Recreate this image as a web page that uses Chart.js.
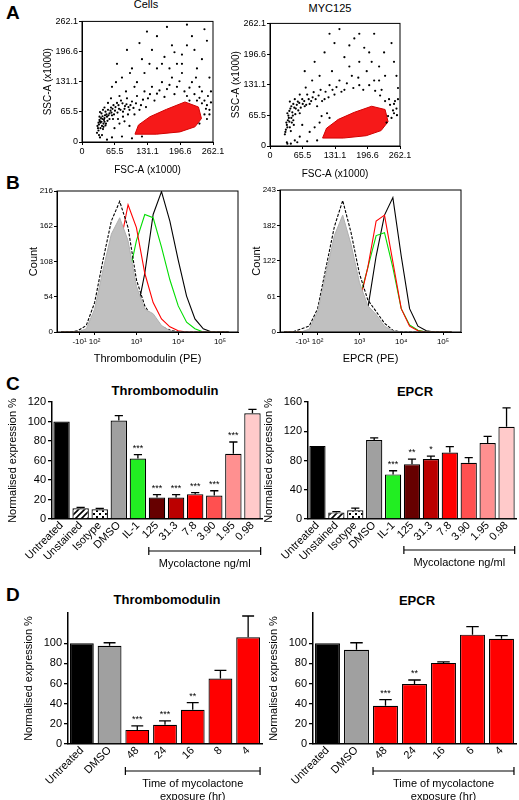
<!DOCTYPE html>
<html><head><meta charset="utf-8">
<script src="https://cdn.jsdelivr.net/npm/chart.js@4"></script>
<style>
body{margin:0;background:#fff;font-family:"Liberation Sans",Arial,sans-serif;}
#page{position:relative;width:519px;height:800px;overflow:hidden;}
canvas{position:absolute;}
.t{position:absolute;white-space:nowrap;color:#000;transform:translateX(-50%);}
.L{position:absolute;font-weight:bold;font-size:19px;}
.h{font-weight:bold;font-size:13px;}
</style></head><body><div id="page">
<div class="L" style="left:6px;top:2px">A</div>
<div class="L" style="left:6px;top:172px">B</div>
<div class="L" style="left:6px;top:373px">C</div>
<div class="L" style="left:6px;top:584px">D</div>
<div class="t" style="left:146px;top:-2px;font-size:11px">Cells</div>
<div class="t" style="left:330px;top:2px;font-size:11px">MYC125</div>
<div class="t h" style="left:165px;top:383px">Thrombomodulin</div>
<div class="t h" style="left:415px;top:384px">EPCR</div>
<div class="t h" style="left:167px;top:592px">Thrombomodulin</div>
<div class="t h" style="left:417px;top:593px">EPCR</div>
<canvas id="a1"></canvas><canvas id="a2"></canvas>
<canvas id="b1"></canvas><canvas id="b2"></canvas>
<canvas id="c1"></canvas><canvas id="c2"></canvas>
<canvas id="d1"></canvas><canvas id="d2"></canvas>
</div>
<script>
// ---- panel A: scatter events (FSC-A, SSC-A in x1000) ----
const flowTicks = [0, 65.5, 131.1, 196.6, 262.1];
const cellsEvents = [[30,20],[32,30],[34,38],[36,45],[38,52],[40,35],[42,28],[44,48],[46,58],[48,40],[33,25],[35,55],[37,42],[39,62],[41,50],[43,33],[45,44],[47,66],[50,55],[52,70],[55,62],[58,75],[60,58],[63,80],[66,68],[70,85],[74,72],[78,90],[82,66],[86,78],[90,95],[95,70],[100,88],[105,60],[110,100],[118,80],[125,110],[132,95],[140,120],[150,105],[160,130],[170,115],[180,140],[190,120],[200,150],[210,100],[220,130],[230,90],[240,110],[250,80],[255,70],[245,60],[235,40],[250,50],[60,120],[80,140],[100,160],[120,180],[140,200],[160,170],[180,210],[200,190],[220,230],[240,180],[90,200],[130,240],[170,250],[210,255],[250,220],[70,170],[110,130],[150,160],[190,170],[230,160],[255,140],[40,15],[60,10],[80,12],[100,8],[50,5],[120,12],[65,30],[75,40],[85,45],[95,35],
  [31,35],[33,42],[35,48],[37,30],[39,44],[41,56],[43,40],[45,52],[47,36],[49,60],[51,46],[53,58],[55,50],[57,68],[59,64],[61,72],[64,60],[67,76],[71,64],[73,80],[77,70],[81,84],[85,72],[89,82],[93,76],[97,80],[103,74],[108,84],[115,70],[122,92],[128,76],[136,104],[145,90],[155,112],[165,98],[175,124],[185,104],[195,132],[205,110],[215,118],[225,104],[235,96],[245,90],[252,100],[258,86],[248,72],[240,84],[255,60],[258,110],[228,140],[200,170],[165,185],[125,150],[105,120],[88,110],[75,100],[68,130],[58,95],[52,85],[45,75],[42,70],[36,65],[34,15],[36,10],[62,50],[72,50],[82,55],[92,60],[210,210],[150,230],[115,215],[245,245],[235,120],[215,90],[96,150],[135,170],[185,195],[225,200],[175,160]];
const mycEvents = [[30,25],[32,35],[34,45],[36,55],[38,60],[40,40],[42,32],[44,50],[46,65],[48,45],[35,70],[39,75],[43,85],[47,90],[52,80],[56,95],[60,70],[65,100],[70,85],[75,110],[80,90],[88,115],[95,85],[102,120],[110,100],[120,130],[130,110],[140,140],[150,120],[165,150],[180,130],[195,160],[210,140],[225,120],[240,100],[250,90],[255,80],[245,60],[235,50],[250,70],[70,160],[90,180],[110,200],[130,220],[150,190],[170,230],[190,210],[210,240],[230,200],[250,180],[100,150],[140,250],[180,180],[220,170],[255,150],[35,5],[55,8],[75,10],[95,12],[60,20],[80,30],[90,40],[100,50],[120,60],[65,45],
  [31,30],[33,50],[35,40],[37,65],[39,52],[41,80],[43,60],[45,72],[47,55],[49,82],[51,68],[54,88],[57,76],[59,92],[62,82],[66,90],[69,96],[73,88],[78,100],[83,96],[86,104],[92,100],[98,108],[105,96],[112,116],[118,104],[126,120],[134,126],[144,116],[155,134],[168,124],[178,146],[188,120],[200,130],[212,118],[222,108],[232,96],[242,88],[252,96],[258,100],[248,76],[238,64],[256,66],[258,124],[232,150],[205,180],[160,170],[125,160],[85,140],[72,125],[60,110],[50,100],[40,95],[34,8],[42,5],[50,12],[115,70],[104,64],[200,200],[160,215],[120,240],[245,220],[180,240],[220,140]];
const gateCells = [[106,17],[113,37],[136,55],[169,71],[206,87],[233,76],[239,51],[226,33],[196,22],[149,17],[106,17]];
const gateMyc = [[106,17],[114,38],[138,57],[170,72],[205,85],[232,78],[238,52],[224,33],[194,22],[148,17],[106,17]];

// ---- panel B: histograms on biexponential axis (decade units) ----
const histX = [1.2,1.4,1.6,1.8,2.0,2.2,2.4,2.6,2.8,3.0,3.2,3.4,3.6,3.8,4.0,4.2,4.4,4.6,4.8,5.0,5.2];
const tmUnstained = [0,0,2,10,45,110,170,200,160,80,40,20,8,3,0,0,0,0,0,0,0];
const tmIsotype   = [0,0,0,5,35,95,150,175,140,70,35,28,10,2,0,0,0,0,0,0,0];
const tmMyc       = [0,0,0,0,5,20,60,130,195,160,90,45,20,8,2,0,0,0,0,0,0];
const tmIL1       = [0,0,0,0,0,0,5,30,80,140,180,175,130,80,40,15,5,0,0,0,0];
const tmUntreated = [0,0,0,0,0,0,0,0,5,25,90,180,215,170,110,55,20,5,0,0,0];
const epUnstained = [0,0,5,10,40,110,180,225,170,100,55,35,15,3,0,0,0,0,0,0,0];
const epIsotype   = [0,0,0,5,35,100,165,200,150,85,45,30,10,2,0,0,0,0,0,0,0];
const epMyc       = [0,0,0,0,0,0,2,8,20,50,110,190,200,120,40,10,2,0,0,0,0];
const epIL1       = [0,0,0,0,0,0,2,8,25,55,110,165,170,110,40,12,3,0,0,0,0];
const epUntreated = [0,0,0,0,0,0,0,0,3,12,40,130,200,230,130,40,10,2,0,0,0];
const histTickPos = [1.64, 2, 3, 4, 5];
const histTickLbl = ['-10¹', '10²', '10³', '10⁴', '10⁵'];

// ---- panel C ----
const doseCats = ['Untreated','Unstained','Isotype','DMSO','IL-1','125','31.3','7.8','3.90','1.95','0.98'];
const tmDose = [100,11,10,101,62,22,22,25.5,24,67,108.5];
const tmDoseErr = [0,1,1,5,4,3,3,1.5,5,12,4];
const tmDoseStars = ['','','','','***','***','***','***','***','***',''];
const epDose = [100,9,12,108,61,75,82,91,77,104,126];
const epDoseErr = [0,1,3,3,5,7,4,8,7,9,26];
const epDoseStars = ['','','','','***','**','*','','','',''];

// ---- panel D ----
const tmTimeCats = ['Untreated','DMSO','48','24','16','8','4'];
const tmTime = [100,97.5,14,19,34,65,106];
const tmTimeErr = [0,3,4,4,7,8,21];
const tmTimeStars = ['','','***','***','**','',''];
const epTimeCats = ['Untreated','DMSO','48','24','16','6','4'];
const epTime = [100,93.5,38,59.5,80.5,108.5,104.5];
const epTimeErr = [0,7,6,4,1,8,3];
const epTimeStars = ['','','***','**','','',''];

const FONT = '"Liberation Sans", Arial, sans-serif';
Chart.defaults.font.family = FONT;
Chart.defaults.color = '#000';
Chart.defaults.animation = false;

function pattern(kind) {
  const c = document.createElement('canvas'); c.width = c.height = 6;
  const g = c.getContext('2d');
  g.fillStyle = '#fff'; g.fillRect(0, 0, 6, 6);
  g.fillStyle = '#000'; g.strokeStyle = '#000';
  if (kind === 'hatch') {
    g.lineWidth = 1.6;
    g.beginPath(); g.moveTo(0, 6); g.lineTo(6, 0); g.moveTo(-3, 3); g.lineTo(3, -3); g.moveTo(3, 9); g.lineTo(9, 3); g.stroke();
  } else {
    g.fillRect(0, 0, 2, 2); g.fillRect(3, 3, 2, 2);
  }
  return g.createPattern(c, 'repeat');
}

function place(id, plot, yW, xH, topPad, rightPad, cfg) {
  const cv = document.getElementById(id);
  cv.style.left = (plot.l - yW) + 'px';
  cv.style.top = (plot.t - topPad) + 'px';
  cv.width = yW + plot.w + rightPad;
  cv.height = topPad + plot.h + xH;
  cfg.options.responsive = false;
  cfg.options.layout = { padding: { top: topPad, right: rightPad, left: 0, bottom: 0 } };
  cfg.options.plugins = Object.assign({ legend: { display: false }, tooltip: { enabled: false } }, cfg.options.plugins || {});
  cfg.options.scales.x.afterFit = s => { s.height = xH; };
  cfg.options.scales.y.afterFit = s => { s.width = yW; };
  return new Chart(cv, cfg);
}

const frame = {
  id: 'frame',
  afterDraw(ch) {
    const a = ch.chartArea, g = ch.ctx;
    g.save(); g.strokeStyle = '#000'; g.lineWidth = 1;
    g.strokeRect(a.left, a.top, a.right - a.left, a.bottom - a.top);
    g.restore();
  }
};

function flowChart(id, plot, events, gate) {
  return place(id, plot, 40, 34, 6, 14, {
    type: 'scatter',
    data: { datasets: [
      { data: events.map(p => ({ x: p[0], y: p[1] })), pointRadius: 1.1, pointBackgroundColor: '#000', pointBorderWidth: 0 },
      { data: gate.map(p => ({ x: p[0], y: p[1] })), showLine: true, fill: 'shape', borderColor: '#d00000',
        backgroundColor: 'rgba(245,0,0,0.9)', borderWidth: 1, pointRadius: 0 }
    ] },
    options: {
      scales: {
        x: { type: 'linear', min: 0, max: 262.1, afterBuildTicks: s => { s.ticks = flowTicks.map(v => ({ value: v })); },
          ticks: { font: { size: 9 }, padding: 1, callback: v => v }, grid: { drawOnChartArea: false, tickLength: 3, color: '#000' },
          border: { color: '#000' }, title: { display: true, text: 'FSC-A (x1000)', font: { size: 10 }, padding: 0 } },
        y: { type: 'linear', min: 0, max: 262.1, afterBuildTicks: s => { s.ticks = flowTicks.map(v => ({ value: v })); },
          ticks: { font: { size: 9 }, padding: 1, callback: v => v }, grid: { drawOnChartArea: false, tickLength: 3, color: '#000' },
          border: { color: '#000' }, title: { display: true, text: 'SSC-A (x1000)', font: { size: 10 }, padding: 0 } }
      }
    },
    plugins: [frame]
  });
}

function histChart(id, plot, ymax, yticks, label, u, iso, myc, il1, unt) {
  const line = (d, col, dash) => ({ data: d.map((v, i) => ({ x: histX[i], y: v })), borderColor: col, borderWidth: 1.1,
    borderDash: dash || [], pointRadius: 0, fill: false, showLine: true });
  return place(id, plot, 30, 34, 6, 6, {
    type: 'scatter',
    data: { datasets: [
      { data: iso.map((v, i) => ({ x: histX[i], y: v })), showLine: true, fill: 'origin', backgroundColor: '#c0c0c0', borderColor: '#b0b0b0', borderWidth: 1, pointRadius: 0 },
      line(u, '#000', [3, 1.5]), line(myc, '#ff0000'), line(il1, '#00dd00'), line(unt, '#000')
    ] },
    options: {
      scales: {
        x: { type: 'linear', min: 1.1, max: 5.43, afterBuildTicks: s => { s.ticks = histTickPos.map(v => ({ value: v })); },
          ticks: { font: { size: 8 }, padding: 2, callback: (v, i) => histTickLbl[i] }, grid: { drawOnChartArea: false, tickLength: 3, color: '#000' },
          border: { color: '#000' }, title: { display: true, text: label, font: { size: 11 }, padding: 0 } },
        y: { type: 'linear', min: 0, max: ymax, afterBuildTicks: s => { s.ticks = yticks.map(v => ({ value: v })); },
          ticks: { font: { size: 8 }, padding: 1 }, grid: { drawOnChartArea: false, tickLength: 3, color: '#000' },
          border: { color: '#000' }, title: { display: true, text: 'Count', font: { size: 11 }, padding: 0 } }
      }
    },
    plugins: [frame]
  });
}

function barExtras(err, stars, from, to, lines, yOff) {
  return {
    id: 'extras',
    afterDatasetsDraw(ch) {
      const g = ch.ctx, x = ch.scales.x, y = ch.scales.y, meta = ch.getDatasetMeta(0);
      const vals = ch.data.datasets[0].data;
      g.save(); g.strokeStyle = '#000'; g.fillStyle = '#000'; g.lineWidth = 1.3;
      vals.forEach((v, i) => {
        const bw = meta.data[i].width, cx = x.getPixelForValue(i);
        const top = y.getPixelForValue(v + err[i]);
        if (err[i] > 0) {
          g.beginPath(); g.moveTo(cx, y.getPixelForValue(v)); g.lineTo(cx, top);
          g.moveTo(cx - bw / 4, top); g.lineTo(cx + bw / 4, top); g.stroke();
        }
        if (stars[i]) {
          g.font = '9px ' + FONT; g.textAlign = 'center'; g.textBaseline = 'bottom';
          g.fillText(stars[i], cx, top - 2);
        }
      });
      const by = y.bottom + yOff;
      const x0 = x.getPixelForValue(from) - meta.data[from].width / 2, x1 = x.getPixelForValue(to) + meta.data[to].width / 2;
      g.lineWidth = 1.2;
      g.beginPath(); g.moveTo(x0, by); g.lineTo(x1, by); g.moveTo(x0, by - 4); g.lineTo(x0, by + 4);
      g.moveTo(x1, by - 4); g.lineTo(x1, by + 4); g.stroke();
      g.font = '11px ' + FONT; g.textAlign = 'center'; g.textBaseline = 'top';
      lines.forEach((t, k) => g.fillText(t, (x0 + x1) / 2, by + 7 + k * 13));
      g.restore();
    }
  };
}

function barChart(id, plot, cats, vals, colors, ymax, err, stars, from, to, lines, yOff, xH) {
  return place(id, plot, 46, xH, 12, 4, {
    type: 'bar',
    data: { labels: cats, datasets: [{ data: vals, backgroundColor: colors, borderColor: '#000', borderWidth: 1.2,
      barPercentage: 0.86, categoryPercentage: 1 }] },
    options: {
      scales: {
        x: { ticks: { font: { size: 11 }, minRotation: 45, maxRotation: 45, padding: 0, autoSkip: false },
          grid: { drawOnChartArea: false, drawTicks: false, display: false }, border: { color: '#000', width: 1.5 } },
        y: { min: 0, max: ymax, afterBuildTicks: s => { s.ticks = s.ticks.filter(t => t.value % 20 === 0); },
          ticks: { stepSize: 20, font: { size: 11 }, padding: 2 },
          grid: { drawOnChartArea: false, tickLength: 4, color: '#000', lineWidth: 1.3 }, border: { color: '#000', width: 1.5 },
          title: { display: true, text: 'Normalised expression %', font: { size: 11 }, padding: 0 } }
      }
    },
    plugins: [barExtras(err, stars, from, to, lines, yOff)]
  });
}

flowChart('a1', { l: 82, t: 21, w: 131, h: 121 }, cellsEvents, gateCells);
flowChart('a2', { l: 270, t: 23, w: 130, h: 123 }, mycEvents, gateMyc);
histChart('b1', { l: 57, t: 191, w: 181, h: 141 }, 216, [0, 54, 108, 162, 216], 'Thrombomodulin (PE)', tmUnstained, tmIsotype, tmMyc, tmIL1, tmUntreated);
histChart('b2', { l: 280, t: 190, w: 181, h: 142 }, 243, [0, 61, 122, 182, 243], 'EPCR (PE)', epUnstained, epIsotype, epMyc, epIL1, epUntreated);

const doseColors = ['#000', pattern('hatch'), pattern('dots'), '#a0a0a0', '#22ee22', '#660000', '#bb0000', '#ff0000', '#ff5050', '#ff9090', '#ffcaca'];
barChart('c1', { l: 52, t: 402, w: 210, h: 117 }, doseCats, tmDose, doseColors, 120, tmDoseErr, tmDoseStars, 5, 10, ['Mycolactone ng/ml'], 32, 60);
barChart('c2', { l: 308, t: 402, w: 208, h: 117 }, doseCats, epDose, doseColors, 160, epDoseErr, epDoseStars, 5, 10, ['Mycolactone ng/ml'], 31, 60);
const timeColors = ['#000', '#a0a0a0', '#ff0000', '#ff0000', '#ff0000', '#ff0000', '#ff0000'];
barChart('d1', { l: 68, t: 613, w: 194, h: 131 }, tmTimeCats, tmTime, timeColors, 130, tmTimeErr, tmTimeStars, 2, 6, ['Time of mycolactone', 'exposure (hr)'], 27, 62);
barChart('d2', { l: 313, t: 613, w: 203, h: 131 }, epTimeCats, epTime, timeColors, 130, epTimeErr, epTimeStars, 2, 6, ['Time of mycolactone', 'exposure (hr)'], 27, 62);
</script></body></html>
